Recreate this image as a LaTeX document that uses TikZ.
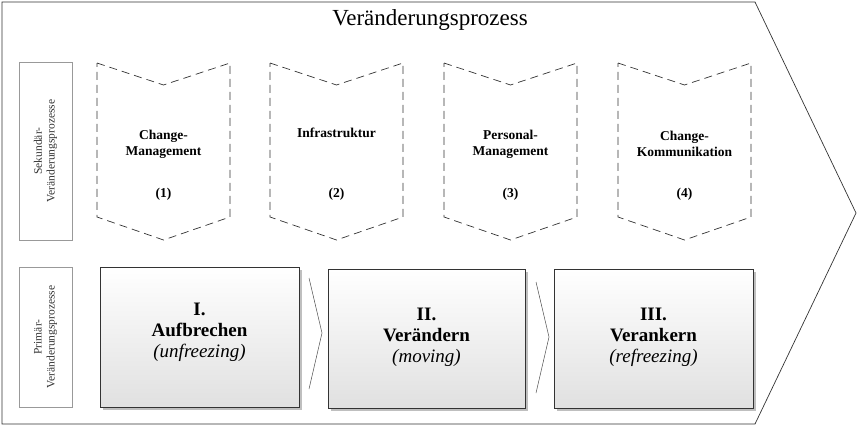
\documentclass[tikz,border=0pt]{standalone}
\usepackage{fontspec}
\setmainfont{Liberation Serif}
\begin{document}
\begin{tikzpicture}[x=1pt,y=-1pt,
  chev/.style={draw=black!80,dashed,dash pattern=on 8pt off 5pt,line width=0.7pt},
  lab/.style={draw=black!40,line width=0.5pt},
  pbox/.style={draw=black!80,line width=0.6pt,top color=white,bottom color=black!12},
  ctext/.style={font=\bfseries\fontsize{13.5}{16}\selectfont,align=center},
  btext/.style={font=\fontsize{19}{21}\selectfont,align=center},
  ltext/.style={font=\fontsize{11.5}{13}\selectfont,align=center,rotate=90,text=black!80}]
\useasboundingbox (0,0) rectangle (858,428);
\draw[line width=0.7pt,black!80] (2,2) -- (755,2) -- (856,213) -- (755,424) -- (2,424) -- cycle;
\node[font=\fontsize{23}{26}\selectfont] (title) at (430,20) {Veränderungsprozess};
% label boxes
\draw[lab] (19,62) rectangle (72,240);
\node[ltext] (sek) at (45.5,151) {Sekundär-\\Veränderungsprozesse};
\draw[lab] (19,267) rectangle (72,407);
\node[ltext] (pri) at (45.5,337) {Primär-\\Veränderungsprozesse};
% chevrons
\foreach \xa/\t/\n/\yy in {97/{Change-\\Management}/1/144, 270/{Infrastruktur}/2/133, 444/{Personal-\\Management}/3/144, 618/{Change-\\Kommunikation}/4/144}{
  \draw[chev] (\xa,63) -- (\xa+66.5,85) -- (\xa+133,63) -- (\xa+133,217) -- (\xa+66.5,240) -- (\xa,217) -- cycle;
  \node[ctext] (c\n) at (\xa+66.5,\yy) {\t};
  \node[ctext] (n\n) at (\xa+66.5,194) {(\n)};
}
% primary boxes
\fill[black!25] (103,270) rectangle (302,410);
\draw[pbox] (100,267) rectangle (299,407);
\node[btext] (b1) at (199.5,332) {\textbf{I.}\\\textbf{Aufbrechen}\\\textit{(unfreezing)}};
\fill[black!25] (331,272) rectangle (528,411);
\draw[pbox] (328,269) rectangle (525,408);
\node[btext] (b2) at (426.5,337) {\textbf{II.}\\\textbf{Verändern}\\\textit{(moving)}};
\fill[black!25] (557,272) rectangle (756,411);
\draw[pbox] (554,269) rectangle (753,408);
\node[btext] (b3) at (653.5,337) {\textbf{III.}\\\textbf{Verankern}\\\textit{(refreezing)}};
% small arrows
\draw[black!70,line width=0.5pt] (309,278) -- (322,333) -- (309,389);
\draw[black!70,line width=0.5pt] (536,282) -- (549,337) -- (536,393);
\end{tikzpicture}
\end{document}
